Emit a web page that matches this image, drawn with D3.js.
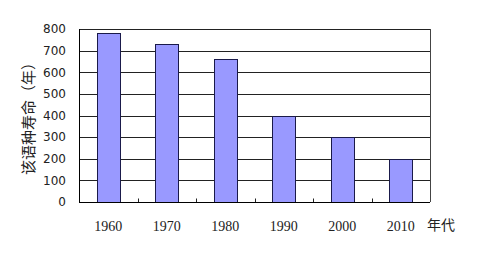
<!DOCTYPE html>
<html>
<head>
<meta charset="utf-8">
<script src="https://cdn.jsdelivr.net/npm/d3@7"></script>
<style>
  body { margin: 0; background: #fff; }
  svg { display: block; }
</style>
</head>
<body>
<svg width="479" height="253"></svg>
<script>
"use strict";

const years = ["1960", "1970", "1980", "1990", "2000", "2010"];
const lifespans = [780, 730, 660, 400, 300, 200];
const yTicks = [0, 100, 200, 300, 400, 500, 600, 700, 800];

const svg = d3.select("svg");
const margin = { top: 29, right: 49, bottom: 51, left: 79 };
const innerWidth = 479 - margin.left - margin.right;
const innerHeight = 253 - margin.top - margin.bottom;

const g = svg.append("g")
  .attr("transform", `translate(${margin.left},${margin.top})`);

const xScale = d3.scaleBand()
  .domain(years)
  .range([0, innerWidth])
  .paddingInner(0.6)
  .paddingOuter(0.3);

const yScale = d3.scaleLinear()
  .domain([0, 800])
  .range([innerHeight, 0]);

const py = v => Math.round(yScale(v)) + 0.5;

// gridlines
g.append("g")
  .selectAll("line")
  .data(yTicks)
  .enter()
  .append("line")
  .attr("x1", 0)
  .attr("x2", innerWidth)
  .attr("y1", d => py(d))
  .attr("y2", d => py(d))
  .attr("stroke", "#222");

// right border
g.append("line")
  .attr("x1", innerWidth + 0.5).attr("x2", innerWidth + 0.5)
  .attr("y1", 0).attr("y2", innerHeight)
  .attr("stroke", "#444");

// bars
g.selectAll("rect")
  .data(lifespans)
  .enter()
  .append("rect")
  .attr("x", (d, i) => Math.round(xScale(years[i])) + 0.5)
  .attr("y", d => py(d))
  .attr("width", Math.round(xScale.bandwidth()))
  .attr("height", d => py(0) - py(d))
  .attr("fill", "#9999ff")
  .attr("stroke", "#1a1a4a")
  .attr("stroke-width", 1);

// x axis with inner ticks between categories
const step = xScale.step();
g.append("g")
  .selectAll("line")
  .data(years.slice(1))
  .enter()
  .append("line")
  .attr("x1", (d, i) => Math.round(step * (i + 1)) + 0.5)
  .attr("x2", (d, i) => Math.round(step * (i + 1)) + 0.5)
  .attr("y1", py(0))
  .attr("y2", py(0) - 4)
  .attr("stroke", "#222");

g.append("line")
  .attr("x1", 0).attr("x2", innerWidth)
  .attr("y1", py(0)).attr("y2", py(0))
  .attr("stroke", "#000");

g.append("line")
  .attr("x1", 0.5).attr("x2", 0.5)
  .attr("y1", 0).attr("y2", innerHeight)
  .attr("stroke", "#000");

// y labels
svg.append("g")
  .selectAll("text")
  .data(yTicks)
  .enter()
  .append("text")
  .attr("x", margin.left - 13)
  .attr("y", d => margin.top + yScale(d))
  .attr("dy", "0.36em")
  .attr("text-anchor", "end")
  .attr("font-family", "DejaVu Sans, sans-serif")
  .attr("font-size", 12)
  .attr("fill", "#222")
  .text(d => d);

// x labels
g.append("g")
  .selectAll("text")
  .data(years)
  .enter()
  .append("text")
  .attr("x", d => xScale(d) + xScale.bandwidth() / 2)
  .attr("y", innerHeight + 24)
  .attr("dy", "0.36em")
  .attr("text-anchor", "middle")
  .attr("font-family", "Liberation Serif, serif")
  .attr("font-size", 14)
  .attr("fill", "#222")
  .text(d => d);

// axis titles
svg.append("text")
  .attr("transform", "translate(29,115) rotate(-90)")
  .attr("text-anchor", "middle")
  .attr("dy", "0.36em")
  .attr("font-family", "Noto Sans CJK SC, sans-serif")
  .attr("font-size", 15)
  .attr("fill", "#222")
  .text("该语种寿命（年）");

svg.append("text")
  .attr("x", 427)
  .attr("y", 225)
  .attr("dy", "0.36em")
  .attr("font-family", "Noto Sans CJK SC, sans-serif")
  .attr("font-size", 14)
  .attr("fill", "#222")
  .text("年代");
</script>
</body>
</html>
